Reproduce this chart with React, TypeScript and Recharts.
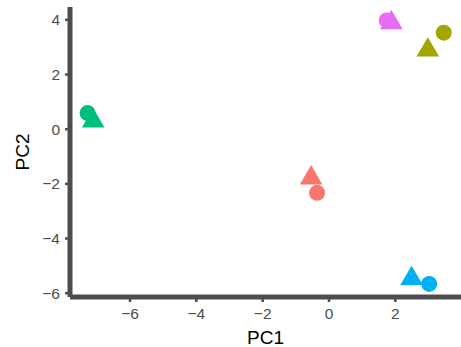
import { ScatterChart, Scatter, XAxis, YAxis, Cell } from "recharts";

const groups = ["A", "B", "C", "D", "E"];
const groupColors = ["#F8766D", "#A3A500", "#00BF7D", "#00B0F6", "#E76BF3"];

// circles
const circlePC1 = [-0.36, 3.46, -7.28, 3.02, 1.74];
const circlePC2 = [-2.33, 3.53, 0.59, -5.66, 3.98];
// triangles
const trianglePC1 = [-0.54, 2.98, -7.11, 2.49, 1.88];
const trianglePC2 = [-1.67, 3.01, 0.42, -5.35, 4.01];

const xTicks = [-6, -4, -2, 0, 2];
const yTicks = [-6, -4, -2, 0, 2, 4];

const circles = groups.map((g, i) => ({ group: g, PC1: circlePC1[i], PC2: circlePC2[i] }));
const triangles = groups.map((g, i) => ({ group: g, PC1: trianglePC1[i], PC2: trianglePC2[i] }));

const AXIS = "#4D4D4D";
const FONT = "'Liberation Sans', Arial, Helvetica, sans-serif";

const fmt = (v: number) => String(v).replace("-", "\u2212");

const CircleDot = (p: any) => <circle cx={p.cx} cy={p.cy} r={8} fill={p.fill} />;

const TriangleDot = (p: any) => {
  const { cx, cy } = p;
  const hw = 11.3;
  const hh = 9.7;
  return (
    <path
      d={`M${cx},${cy - hh}L${cx + hw},${cy + hh}L${cx - hw},${cy + hh}Z`}
      fill={p.fill}
    />
  );
};

const YTitle = (props: any) => {
  const vb = props.viewBox || {};
  const cy = (vb.y ?? 7) + (vb.height ?? 290) / 2;
  const x = 29;
  return (
    <text
      x={x}
      y={cy}
      transform={`rotate(-90, ${x}, ${cy})`}
      textAnchor="middle"
      fontSize={19}
      fill="#000"
      fontFamily={FONT}
    >
      PC2
    </text>
  );
};

export default function App() {
  return (
    <div style={{ position: "absolute", left: 0, top: 0, background: "#fff" }}>
      <ScatterChart width={461} height={347} margin={{ top: 7, right: 0, bottom: 0, left: 0 }}>
        <XAxis
          type="number"
          dataKey="PC1"
          domain={[-7.81, 3.98]}
          ticks={xTicks}
          tickFormatter={fmt}
          allowDataOverflow
          height={50}
          axisLine={{ stroke: AXIS, strokeWidth: 5 }}
          tickLine={{ stroke: AXIS, strokeWidth: 2.5 }}
          tickSize={5}
          tickMargin={6}
          tick={{ fill: AXIS, fontSize: 15.5, fontFamily: FONT }}
          label={{ value: "PC1", position: "insideBottom", offset: 3.5, fontSize: 19, fill: "#000", fontFamily: FONT }}
        />
        <YAxis
          type="number"
          dataKey="PC2"
          domain={[-6.14, 4.47]}
          ticks={yTicks}
          tickFormatter={fmt}
          allowDataOverflow
          width={70}
          axisLine={{ stroke: AXIS, strokeWidth: 5 }}
          tickLine={{ stroke: AXIS, strokeWidth: 2.5 }}
          tickSize={5}
          tickMargin={5}
          tick={{ fill: AXIS, fontSize: 15.5, fontFamily: FONT }}
          label={YTitle}
        />
        <Scatter data={circles} shape={CircleDot} isAnimationActive={false}>
          {circles.map((d, i) => (
            <Cell key={d.group} fill={groupColors[i]} />
          ))}
        </Scatter>
        <Scatter data={triangles} shape={TriangleDot} isAnimationActive={false}>
          {triangles.map((d, i) => (
            <Cell key={d.group} fill={groupColors[i]} />
          ))}
        </Scatter>
      </ScatterChart>
    </div>
  );
}
